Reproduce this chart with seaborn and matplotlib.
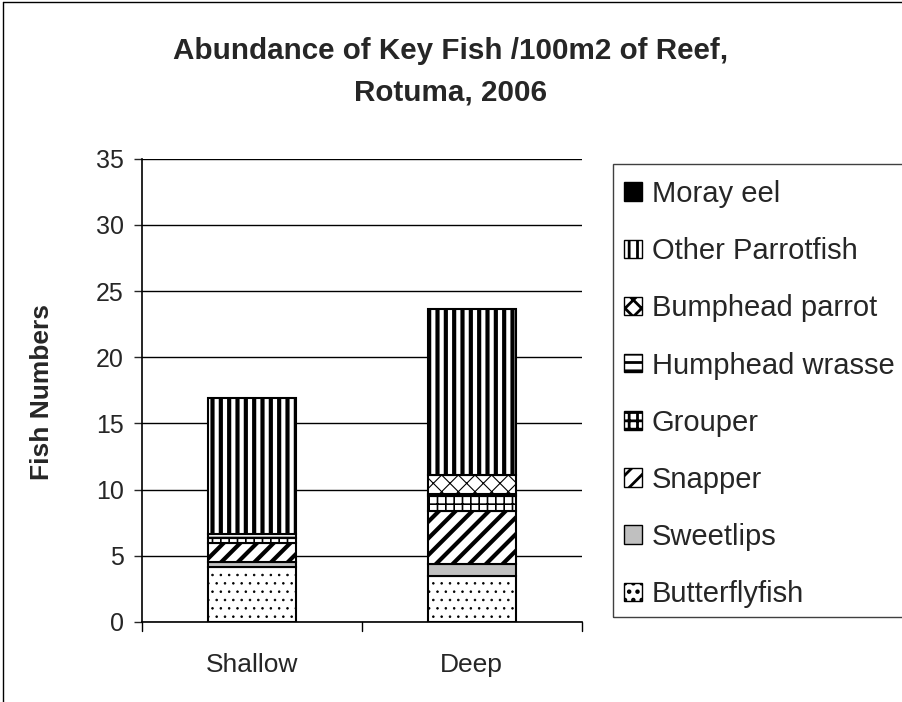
import matplotlib
matplotlib.use("Agg")
import matplotlib.pyplot as plt
import matplotlib.patches as mpatches
import matplotlib.lines as mlines
import seaborn as sns
import numpy as np

sns.set_style("white")
plt.rcParams['font.family'] = ['Liberation Sans', 'DejaVu Sans']
plt.rcParams['hatch.linewidth'] = 2.0

sites = ["Shallow", "Deep"]
species = ["Butterflyfish", "Sweetlips", "Snapper", "Grouper", "Humphead wrasse",
           "Bumphead parrot", "Other Parrotfish", "Moray eel"]
butterflyfish = [4.15, 3.5]
sweetlips = [0.38, 0.88]
snapper = [1.41, 4.03]
grouper = [0.43, 1.13]
humphead_wrasse = [0.25, 0.10]
bumphead_parrot = [0.0, 1.5]
other_parrotfish = [10.3, 12.54]
moray_eel = [0.0, 0.0]
values = [butterflyfish, sweetlips, snapper, grouper, humphead_wrasse,
          bumphead_parrot, other_parrotfish, moray_eel]

styles = {
    "Butterflyfish": dict(fc="white", hatch="..", hlw=0.6),
    "Sweetlips": dict(fc="#C0C0C0", hatch=None, hlw=1.0),
    "Snapper": dict(fc="white", hatch="//", hlw=3.0),
    "Grouper": dict(fc="white", hatch="++", hlw=1.2),
    "Humphead wrasse": dict(fc="white", hatch="--", hlw=1.2),
    "Bumphead parrot": dict(fc="white", hatch="xx", hlw=0.8),
    "Other Parrotfish": dict(fc="white", hatch="||", hlw=3.0),
    "Moray eel": dict(fc="black", hatch=None, hlw=1.0),
}

fig = plt.figure(figsize=(9.02, 7.02), dpi=100)
ax = fig.add_axes([0.157, 0.114, 0.488, 0.66])

cum = np.zeros(len(sites))
for name, vals in zip(species, values):
    st = styles[name]
    n_before = len(ax.patches)
    sns.barplot(x=sites, y=vals, bottom=cum, color=st["fc"], saturation=1,
                width=0.4, edgecolor="black", linewidth=1.5, ax=ax, errorbar=None)
    for p in ax.patches[n_before:]:
        p.set_facecolor(st["fc"])
        if st["hatch"]:
            p.set_hatch(st["hatch"])
            try:
                p.set_hatch_linewidth(st["hlw"])
            except Exception:
                pass
        if p.get_height() <= 0:
            p.set_visible(False)
    cum = cum + np.array(vals)

ax.set_ylim(0, 35)
ax.set_yticks(np.arange(0, 36, 5))
ax.set_xlim(-0.5, 1.5)
ax.yaxis.grid(True, color="black", linewidth=1)
ax.set_axisbelow(True)
for s in ["top", "right"]:
    ax.spines[s].set_visible(False)
ax.spines["left"].set_color("black")
ax.spines["bottom"].set_color("black")
ax.spines["left"].set_linewidth(1.2)
ax.spines["bottom"].set_linewidth(1.2)
ax.tick_params(axis="y", labelsize=18, length=6, width=1, direction="out",
               left=True, pad=7)
ax.tick_params(axis="x", labelsize=19, length=0, pad=22)
ax.set_xticks([0, 1])
ax.set_xticklabels(sites)
ax.set_ylabel("Fish Numbers", fontsize=19, fontweight="bold")
ax.yaxis.set_label_coords(-0.20, 0.497)
ax.set_xlabel("")
for xv in [-0.5, 0.5, 1.5]:
    ax.plot([xv, xv], [0, -0.7], color="black", lw=1, clip_on=False)

fig.text(0.5, 1 - 72 / 702, "Abundance of Key Fish /100m2 of Reef,\nRotuma, 2006",
         ha="center", va="center", fontsize=21.3, fontweight="bold", linespacing=1.6)

handles = []
for name in reversed(species):
    st = styles[name]
    h = mpatches.Patch(facecolor=st["fc"], edgecolor="black",
                       hatch=st["hatch"], linewidth=1, label=name)
    handles.append(h)
leg = fig.legend(handles=handles, loc="upper left",
                 bbox_to_anchor=(624 / 902, 1 - 180 / 702),
                 frameon=False, fontsize=21, handlelength=0.6, handleheight=0.6,
                 handletextpad=0.35, labelspacing=1.0, borderpad=0,
                 borderaxespad=0)

# legend frame (extends past right edge like the reference)
fig.add_artist(mpatches.Rectangle((613 / 902, 1 - 617 / 702), (920 - 613) / 902,
                                  (617 - 164) / 702, transform=fig.transFigure,
                                  facecolor="none", edgecolor="#404040", lw=1))

# outer chart border (left and top)
fig.add_artist(mlines.Line2D([0.003, 0.003], [0, 0.997], color="black", lw=1,
                             transform=fig.transFigure))
fig.add_artist(mlines.Line2D([0.003, 1], [0.997, 0.997], color="black", lw=1,
                             transform=fig.transFigure))

fig.savefig("out.png", dpi=100)
